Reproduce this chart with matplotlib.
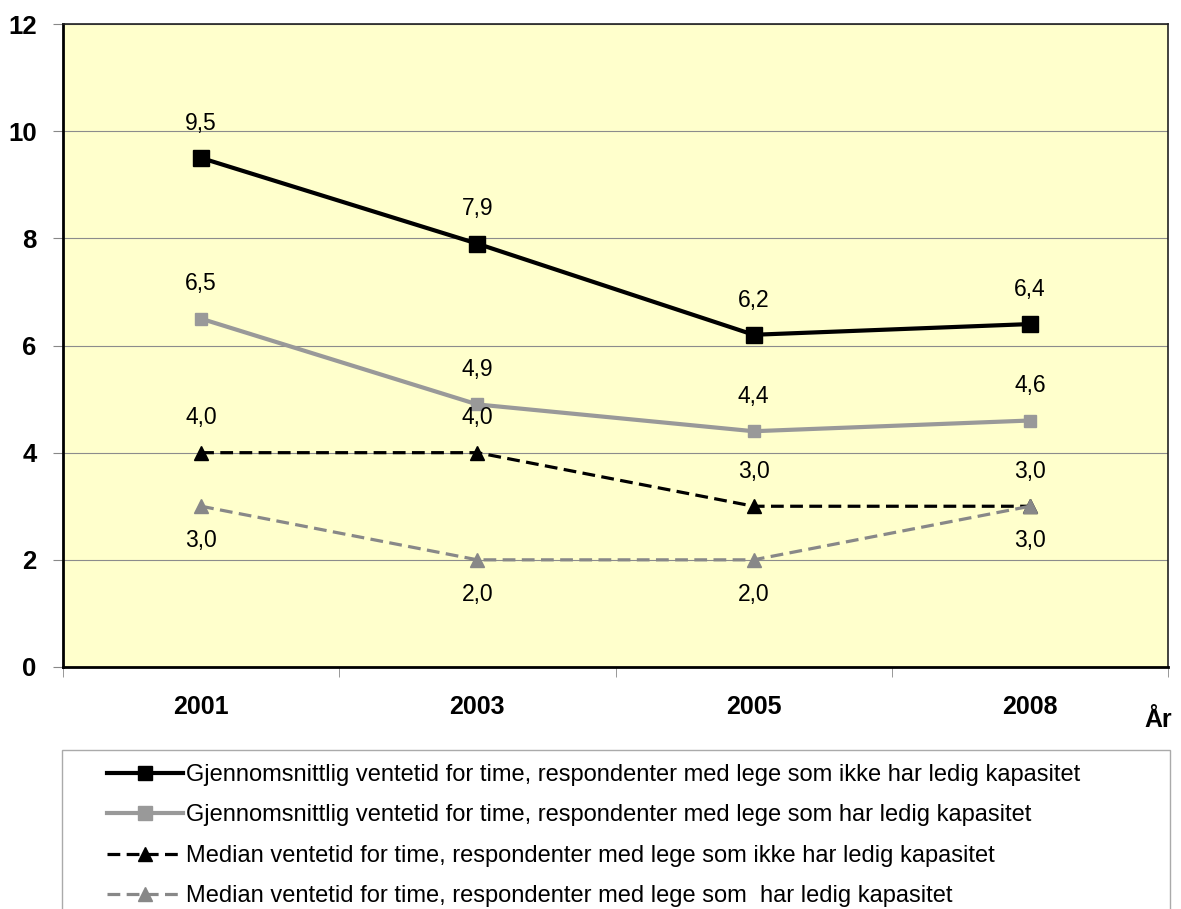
import matplotlib.pyplot as plt
import matplotlib.patches as mpatches
import numpy as np

plt.rcParams['font.family'] = ['Liberation Sans', 'DejaVu Sans']

years = ['2001', '2003', '2005', '2008']
mean_no_cap = [9.5, 7.9, 6.2, 6.4]
mean_cap = [6.5, 4.9, 4.4, 4.6]
median_no_cap = [4.0, 4.0, 3.0, 3.0]
median_cap = [3.0, 2.0, 2.0, 3.0]

labels = [
    'Gjennomsnittlig ventetid for time, respondenter med lege som ikke har ledig kapasitet',
    'Gjennomsnittlig ventetid for time, respondenter med lege som har ledig kapasitet',
    'Median ventetid for time, respondenter med lege som ikke har ledig kapasitet',
    'Median ventetid for time, respondenter med lege som  har ledig kapasitet',
]

W, H = 1181, 909
fig = plt.figure(figsize=(W / 100, H / 100), dpi=100)
ax = fig.add_axes([63 / W, 1 - 667 / H, 1105 / W, 643 / H])
ax.set_facecolor('#FFFFCC')

x = np.arange(len(years))
gray = '#999999'
dash = (0, (4, 2))
l1, = ax.plot(x, mean_no_cap, color='black', lw=3, marker='s', ms=11, label=labels[0])
l2, = ax.plot(x, mean_cap, color=gray, lw=3, marker='s', ms=8, label=labels[1])
l3, = ax.plot(x, median_no_cap, color='black', lw=2.3, ls=dash, marker='^', ms=10, label=labels[2])
l4, = ax.plot(x, median_cap, color='#888888', lw=2.3, ls=dash, marker='^', ms=10, label=labels[3])

def fmt(v):
    return f'{v:.1f}'.replace('.', ',')

# data labels: above for the upper series, below for the gray median
for series in (mean_no_cap, mean_cap, median_no_cap):
    for xi, v in zip(x, series):
        ax.annotate(fmt(v), (xi, v), xytext=(0, 25), textcoords='offset points',
                    ha='center', va='center', fontsize=16.5)
for xi, v in zip(x, median_cap):
    ax.annotate(fmt(v), (xi, v), xytext=(0, -25), textcoords='offset points',
                ha='center', va='center', fontsize=16.5)

ax.set_xlim(-0.5, 3.5)
ax.set_ylim(0, 12)
ax.set_yticks(np.arange(0, 13, 2))
ax.set_yticklabels([str(v) for v in range(0, 13, 2)], fontsize=18.5, fontweight='bold')
ax.yaxis.grid(True, color='#8c8c8c', lw=0.8)
ax.set_axisbelow(True)

ax.set_xticks(x)
ax.set_xticklabels(years, fontsize=18, fontweight='bold')
ax.tick_params(axis='x', which='major', length=0, pad=20)
ax.set_xticks(np.arange(-0.5, 4, 1), minor=True)
ax.tick_params(axis='x', which='minor', length=7, color='#888888', direction='out')
ax.tick_params(axis='y', length=7, color='#888888', pad=12)

for s in ax.spines.values():
    s.set_color('#222222')
    s.set_linewidth(1.2)
for side in ('left', 'bottom'):
    ax.spines[side].set_linewidth(2)
    ax.spines[side].set_color('black')

fig.text(1158 / W, 1 - 720 / H, 'År', fontsize=18, fontweight='bold', ha='center', va='center')

# legend box runs past the bottom edge of the picture
fig.patches.append(mpatches.Rectangle((62 / W, -0.05), 1108 / W, 1 - 750 / H + 0.05,
                                      transform=fig.transFigure, fill=False,
                                      edgecolor='#aaaaaa', lw=1))
leg = fig.legend(handles=[l1, l2, l3, l4], loc='upper left',
                 bbox_to_anchor=(107 / W, 1 - 764 / H),
                 fontsize=17, frameon=False,
                 handlelength=3.2, handletextpad=0.15, labelspacing=0.78,
                 borderpad=0, borderaxespad=0)
for h in leg.legend_handles:
    h.set_markersize(10)

fig.savefig('out.png', dpi=100)
